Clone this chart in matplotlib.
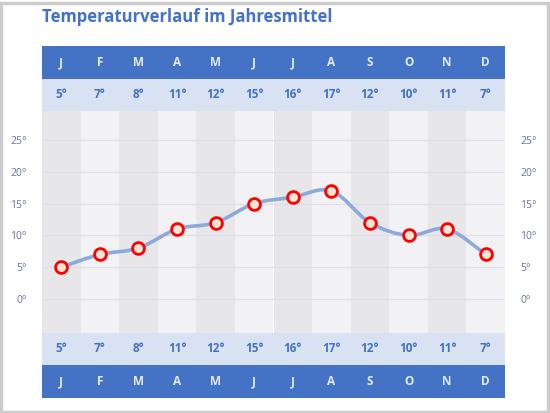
import matplotlib.pyplot as plt
from matplotlib.path import Path
from matplotlib.patches import PathPatch, Rectangle

months = ["J", "F", "M", "A", "M", "J", "J", "A", "S", "O", "N", "D"]
temps = [5, 7, 8, 11, 12, 15, 16, 17, 12, 10, 11, 7]
yticks = [0, 5, 10, 15, 20, 25]

blue = "#4472c4"
band = "#d9e2f3"
dark_col = "#e7e6e9"
light_col = "#f2f2f4"
tick_col = "#65759a"

W, H = 550, 413
fig = plt.figure(figsize=(5.5, 4.13), dpi=100)
plt.rcParams['font.family'] = ['Open Sans', 'DejaVu Sans']


def px_axes(x0, y0, x1, y1):
    # pixel box (from top-left) -> axes
    return fig.add_axes([x0 / W, 1 - y1 / H, (x1 - x0) / W, (y1 - y0) / H])


x = list(range(len(months)))
L, R = 42, 505

ax = px_axes(L, 111, R, 333)
ax.set_xlim(-0.5, 11.5)
ax.set_ylim(-5.35, 29.56)
for i in x:
    ax.axvspan(i - 0.5, i + 0.5, color=dark_col if i % 2 == 0 else light_col, lw=0, zorder=0)
for t in yticks:
    ax.axhline(t, color="#dcdfe9", lw=0.9, zorder=1)
for s in ax.spines.values():
    s.set_visible(False)
ax.set_xticks([])
ax.set_yticks(yticks)
ax.set_yticklabels([f"{t}°" for t in yticks])
ax.tick_params(axis="y", length=0, labelsize=7.5, labelcolor=tick_col, pad=11,
               labelleft=True, labelright=True)

# smoothed line through the points (Bezier)
pts = list(zip(x, temps))
verts = [pts[0]]
codes = [Path.MOVETO]
for i in range(len(pts) - 1):
    p0 = pts[i - 1] if i > 0 else pts[i]
    p1 = pts[i]
    p2 = pts[i + 1]
    p3 = pts[i + 2] if i + 2 < len(pts) else pts[i + 1]
    c1 = (p1[0] + (p2[0] - p0[0]) / 6, p1[1] + (p2[1] - p0[1]) / 6)
    c2 = (p2[0] - (p3[0] - p1[0]) / 6, p2[1] - (p3[1] - p1[1]) / 6)
    verts += [c1, c2, p2]
    codes += [Path.CURVE4] * 3
ax.add_patch(PathPatch(Path(verts, codes), fill=False, edgecolor="#8eaadb", lw=2.6,
                       capstyle="round", zorder=2))
ax.plot(x, temps, ls="none", marker="o", ms=8.5, mfc="#fbe5d6", mec="#ff0000", mew=2, zorder=3)


def band_axes(y0, y1, color, labels, tcolor, size):
    b = px_axes(L, y0, R, y1)
    b.set_xlim(-0.5, 11.5)
    b.set_ylim(0, 1)
    b.axis("off")
    b.add_patch(Rectangle((-0.5, 0), 12, 1, color=color, lw=0))
    for i, lab in zip(x, labels):
        b.text(i, 0.5, lab, ha="center", va="center", color=tcolor, fontsize=size,
               fontweight="bold")
    return b


deg_labels = [f"{t}°" for t in temps]
band_axes(46, 79, blue, months, "#e3eaf7", 8.5)
band_axes(79, 111, band, deg_labels, blue, 8.5)
band_axes(333, 365, band, deg_labels, blue, 8.5)
band_axes(365, 398, blue, months, "#e3eaf7", 8.5)

fig.text(L / W, 1 - 17 / H, "Temperaturverlauf im Jahresmittel", ha="left", va="center",
         color=blue, fontsize=12, fontweight="bold")

fig.patches.append(Rectangle((0.002, 0.003), 0.994, 0.99, transform=fig.transFigure,
                             fill=False, edgecolor="#cccccc", lw=2.5))

fig.savefig("out.png", dpi=100)
